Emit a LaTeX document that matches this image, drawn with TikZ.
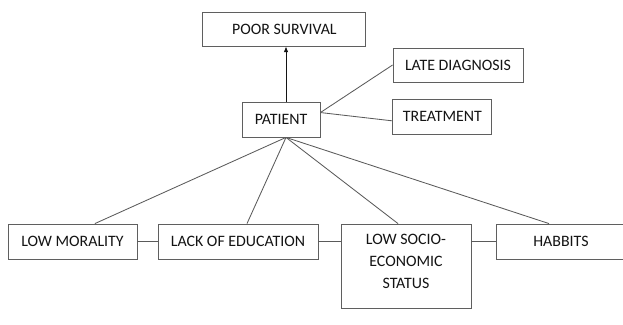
\documentclass[tikz,border=0pt]{standalone}
\usepackage{xcolor}
\usepackage{fontspec}
\setmainfont{Carlito}
\usepackage{tikz}
\usetikzlibrary{arrows.meta, positioning, calc}
\definecolor{mydark}{RGB}{20,20,20}
\definecolor{myframe}{RGB}{95,95,95}
\definecolor{myline}{RGB}{90,90,90}
\tikzset{
  box/.style={rectangle, draw=myframe, fill=white, text=mydark,
    align=center, inner sep=0pt, line width=0.6pt,
    font=\fontsize{11.3}{15.7}\selectfont},
  arrow/.style={-{Latex[length=1.4mm, width=1.1mm]}, line width=0.6pt, color=mydark},
  line/.style={line width=0.6pt, color=myline}
}
\begin{document}
\begin{tikzpicture}
  \useasboundingbox (0,0) rectangle (15.575,8.1);

  % --- TOP ---
  \node[box, minimum width=4.075cm, minimum height=0.85cm] (survival) at (7.11, 7.375) {POOR SURVIVAL};
  \node[box, minimum width=1.95cm, minimum height=0.875cm] (patient) at (7.025, 5.1125) {PATIENT};
  \node[box, minimum width=3.25cm, minimum height=0.85cm] (late) at (11.45, 6.475) {LATE DIAGNOSIS};
  \node[box, minimum width=2.475cm, minimum height=0.875cm] (treatment) at (11.06, 5.1875) {TREATMENT};

  \draw[arrow] ([xshift=0.125cm]patient.north) -- ([xshift=0.125cm]patient.north |- survival.south);
  \draw[line] (patient.10) -- (late.west);
  \draw[line] (patient.10) -- (treatment.185);

  % --- BOTTOM ROW ---
  \node[box, minimum width=3.225cm, minimum height=0.875cm] (morality) at (1.8125, 2.0625) {LOW MORALITY};
  \node[box, minimum width=4.0cm, minimum height=0.875cm] (education) at (5.95, 2.0625) {LACK OF EDUCATION};
  \node[box, minimum width=3.25cm, minimum height=2.1cm] (socio) at (10.15, 1.45) {LOW SOCIO-\\ECONOMIC\\STATUS\\[-8.6pt]};
  \node[box, minimum width=3.25cm, minimum height=0.875cm] (habits) at (14.025, 2.0625) {HABBITS};

  \coordinate (hub) at ([xshift=0.125cm]patient.south);
  \draw[line] (hub) -- ([xshift=0.56cm]morality.north);
  \draw[line] (hub) -- ([xshift=0.225cm]education.north);
  \draw[line] (hub) -- ([xshift=-0.2cm]socio.north);
  \draw[line] (hub) -- ([xshift=-0.3cm]habits.north);

  \draw[line] (morality.east) -- (education.west);
  \draw[line] (education.east) -- (education.east -| socio.west);
  \draw[line] (socio.east |- habits.west) -- (habits.west);
\end{tikzpicture}
\end{document}
